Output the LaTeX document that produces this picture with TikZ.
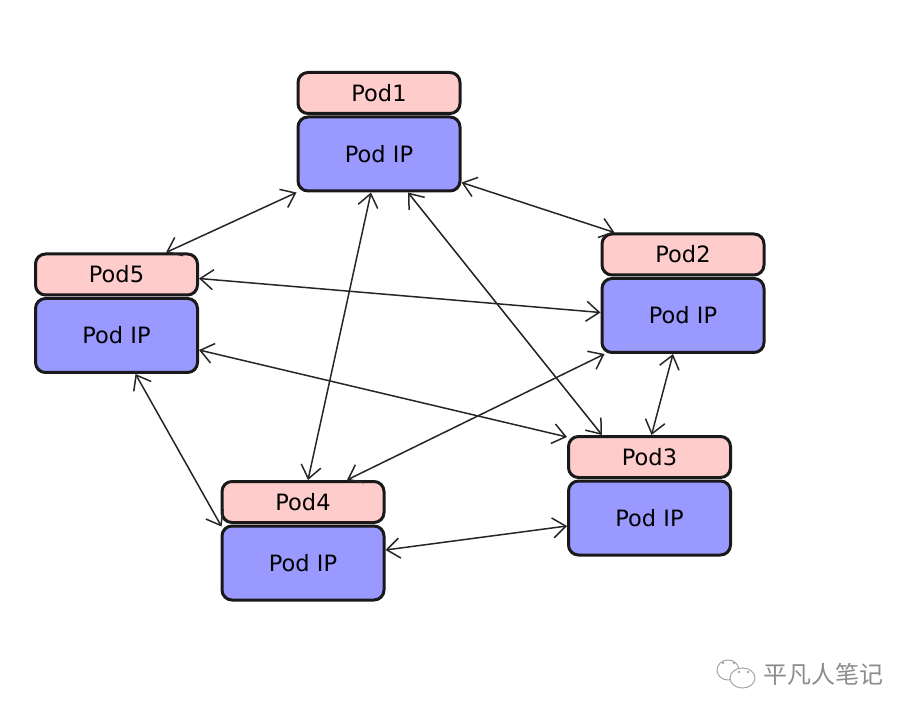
\documentclass[tikz,border=0pt]{standalone}
\usepackage{fontspec}
\setmainfont{DejaVu Sans}
\newfontfamily\cjk{Noto Sans CJK SC}
\usetikzlibrary{positioning}
\usetikzlibrary{arrows.meta}
\definecolor{pod_pink}{HTML}{FFCCCC}
\definecolor{pod_blue}{HTML}{9999FF}
\tikzset{
        podnode/.style={align=center,inner sep=0pt,draw=black!90,line width=3pt,rounded corners=10pt,minimum width=162pt,font=\fontsize{22.5}{24}\selectfont},
        % Pod name
        pod_head/.style={podnode,fill=pod_pink,minimum height=41pt},
        % Pod address
        pod_body/.style={podnode,fill=pod_blue,minimum height=74pt},
        % Links between pods
        pod_link/.style={{Straight Barb[length=13pt,width=20pt]}-{Straight Barb[length=13pt,width=20pt]},line width=1.5pt,black!85},
        % Mark in the corner
        mark_line/.style={draw=black!35,line width=1pt}
}
\begin{document}
\begin{tikzpicture}[x=1pt,y=1pt]
    \useasboundingbox (0,0) rectangle (908,-703);
    \node[pod_body] (ip1) at (379,-154) {Pod IP};
    \node[pod_head,above=0.5pt of ip1] (pod1) {Pod1};
    \node[pod_body] (ip2) at (683,-315.5) {Pod IP};
    \node[pod_head,above=0.5pt of ip2] (pod2) {Pod2};
    \node[pod_body] (ip3) at (649.5,-518) {Pod IP};
    \node[pod_head,above=0.5pt of ip3] (pod3) {Pod3};
    \node[pod_body] (ip4) at (303,-563) {Pod IP};
    \node[pod_head,above=0.5pt of ip4] (pod4) {Pod4};
    \node[pod_body] (ip5) at (116.5,-335.5) {Pod IP};
    \node[pod_head,above=0.5pt of ip5] (pod5) {Pod5};

    \draw[pod_link] ([yshift=10pt]ip1.south east) -- ([xshift=14pt]pod2.north west);
    \draw[pod_link] (ip1.south west) -- ([xshift=-33pt]pod5.north east);
    \draw[pod_link] ([xshift=-8pt]ip1.south) -- ([xshift=5pt]pod4.north);
    \draw[pod_link] ([xshift=29pt]ip1.south) -- ([xshift=35pt]pod3.north west);
    \draw[pod_link] ([yshift=-26pt]pod5.north east) -- ([yshift=3pt]ip2.west);
    \draw[pod_link] ([xshift=-10pt]ip2.south) -- ([xshift=2pt]pod3.north);
    \draw[pod_link] ([xshift=4pt]ip2.south west) -- ([xshift=44pt]pod4.north);
    \draw[pod_link] ([yshift=24pt]ip5.south east) -- ([yshift=-2pt]pod3.north west);
    \draw[pod_link] ([yshift=-8pt]ip3.west) -- ([yshift=13pt]ip4.east);
    \draw[pod_link] ([xshift=19pt]ip5.south) -- ([xshift=1pt,yshift=-2pt]ip4.north west);

    % wechat mark and its text
    \node[inner sep=0pt,text=black!45,font=\cjk\fontsize{24}{26}\selectfont] (mark_text) at (823.5,-674) {平凡人笔记};
    \draw[mark_line] (728,-670) ellipse (11pt and 10pt);
    \draw[mark_line,fill=white] (742.5,-678) ellipse (12.5pt and 10pt);
    \fill[black!35] (723,-663) circle (1.4pt) (734,-663) circle (1.4pt) (739,-672) circle (1.4pt) (748,-672) circle (1.4pt);
\end{tikzpicture}
\end{document}
